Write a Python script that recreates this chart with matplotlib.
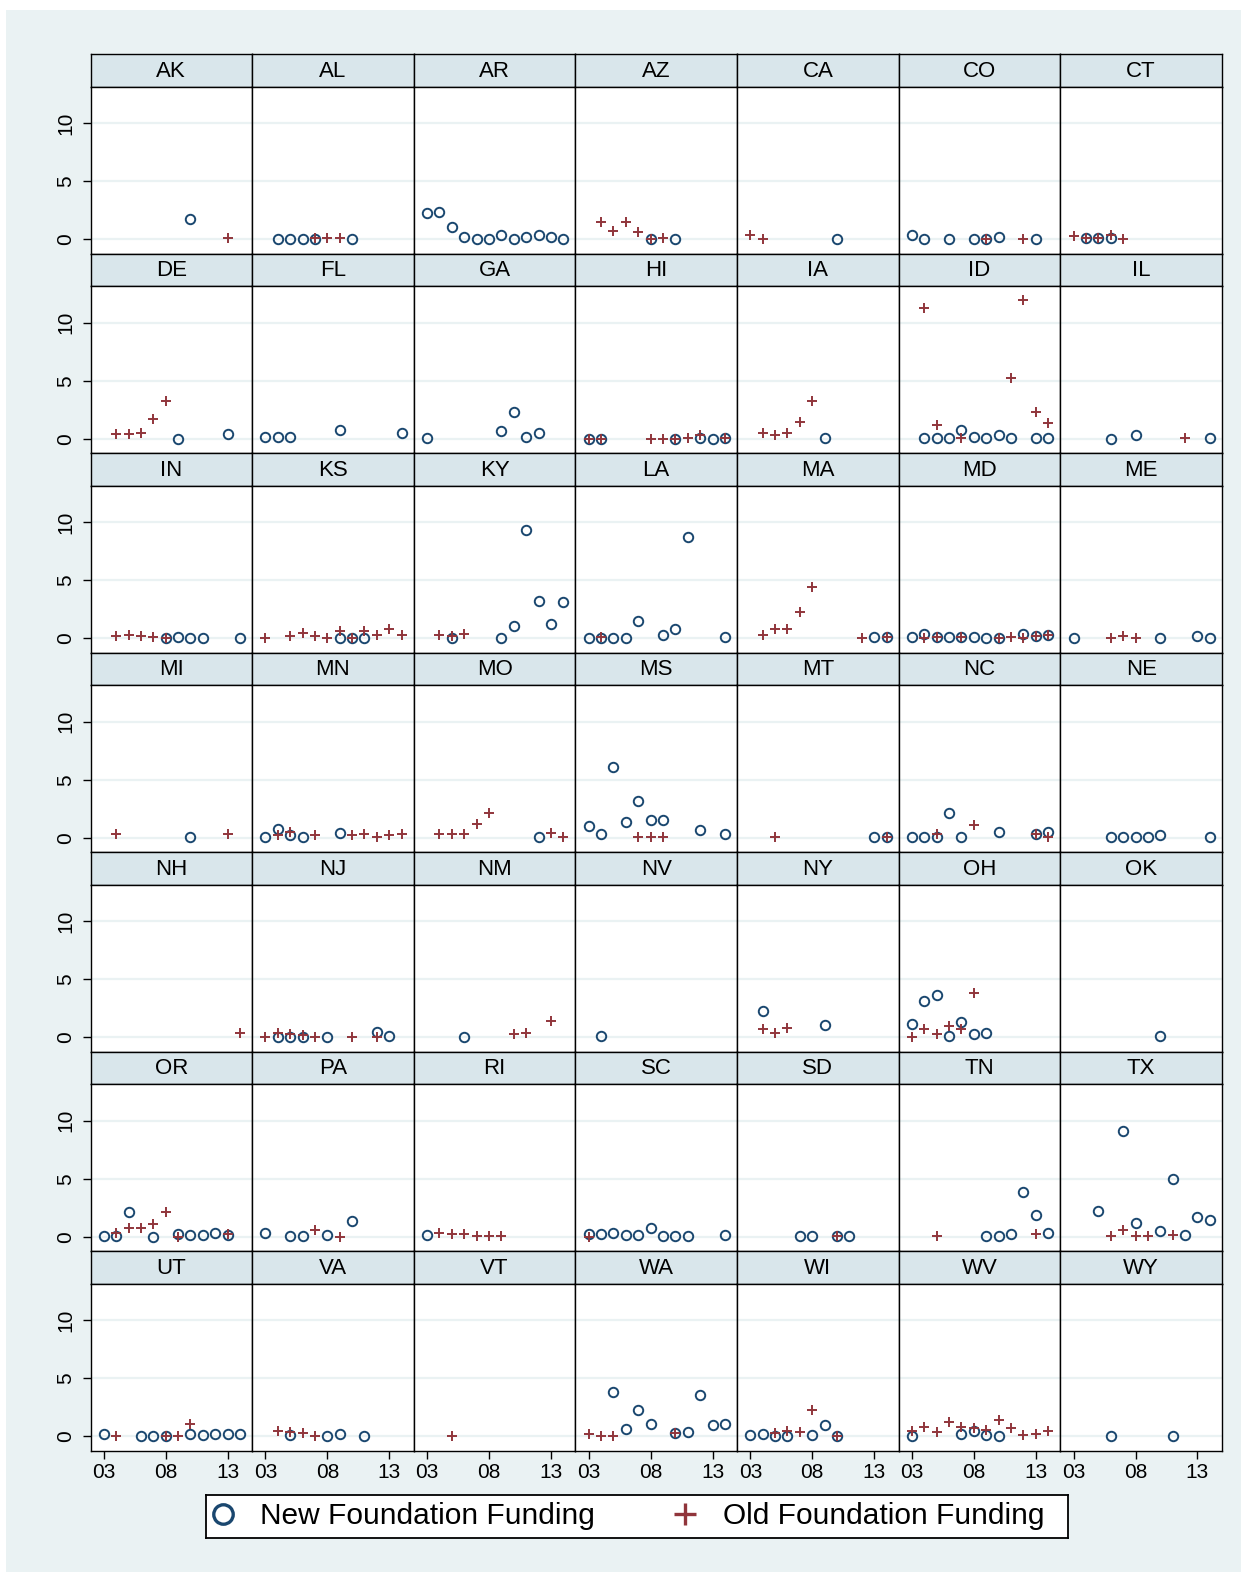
import matplotlib.pyplot as plt
from matplotlib.lines import Line2D
from matplotlib.patches import Rectangle

plt.rcParams['font.family'] = ['Liberation Sans', 'DejaVu Sans']

# year index: 3 = 2003 ... 14 = 2014
states = ["AK", "AL", "AR", "AZ", "CA", "CO", "CT",
          "DE", "FL", "GA", "HI", "IA", "ID", "IL",
          "IN", "KS", "KY", "LA", "MA", "MD", "ME",
          "MI", "MN", "MO", "MS", "MT", "NC", "NE",
          "NH", "NJ", "NM", "NV", "NY", "OH", "OK",
          "OR", "PA", "RI", "SC", "SD", "TN", "TX",
          "UT", "VA", "VT", "WA", "WI", "WV", "WY"]

new_funding = {
    "AK": {10: 1.75},
    "AL": {4: 0.0, 5: 0.0, 6: 0.0, 7: 0.0, 10: 0.0},
    "AR": {3: 2.3, 4: 2.33, 5: 1.03, 6: 0.17, 7: 0.0, 8: 0.0, 9: 0.37, 10: 0.05, 11: 0.23, 12: 0.37, 13: 0.17, 14: 0.0},
    "AZ": {8: 0.0, 10: 0.0},
    "CA": {10: 0.0},
    "CO": {3: 0.35, 4: 0.0, 6: 0.0, 8: 0.05, 9: 0.05, 10: 0.17, 13: 0.0},
    "CT": {4: 0.1, 5: 0.1, 6: 0.1},
    "DE": {9: 0.0, 13: 0.43},
    "FL": {3: 0.17, 4: 0.17, 5: 0.17, 9: 0.77, 14: 0.52},
    "GA": {3: 0.09, 9: 0.66, 10: 2.35, 11: 0.17, 12: 0.52},
    "HI": {3: 0.0, 4: 0.0, 10: 0.0, 12: 0.05, 13: 0.0, 14: 0.05},
    "IA": {9: 0.1},
    "ID": {4: 0.06, 5: 0.06, 6: 0.1, 7: 0.74, 8: 0.17, 9: 0.06, 10: 0.29, 11: 0.1, 13: 0.06, 14: 0.06},
    "IL": {6: 0.0, 8: 0.29, 14: 0.09},
    "IN": {8: 0.0, 9: 0.14, 10: 0.0, 11: 0.0, 14: 0.0},
    "KS": {9: 0.0, 10: 0.0, 11: 0.0},
    "KY": {5: 0.0, 9: 0.0, 10: 1.1, 11: 9.3, 12: 3.23, 13: 1.21, 14: 3.11},
    "LA": {3: 0.0, 4: 0.05, 5: 0.0, 6: 0.0, 7: 1.5, 9: 0.32, 10: 0.84, 11: 8.7, 14: 0.09},
    "MA": {13: 0.09, 14: 0.09},
    "MD": {3: 0.14, 4: 0.35, 5: 0.09, 6: 0.09, 7: 0.09, 8: 0.09, 9: 0.03, 10: 0.0, 12: 0.35, 13: 0.23, 14: 0.29},
    "ME": {3: 0.0, 10: 0.0, 13: 0.23, 14: 0.0},
    "MI": {10: 0.11},
    "MN": {3: 0.11, 4: 0.72, 5: 0.2, 6: 0.11, 9: 0.43},
    "MO": {12: 0.06},
    "MS": {3: 1.0, 4: 0.32, 5: 6.12, 6: 1.32, 7: 3.19, 8: 1.55, 9: 1.55, 12: 0.69, 14: 0.32},
    "MT": {13: 0.09, 14: 0.09},
    "NC": {3: 0.11, 4: 0.11, 5: 0.11, 6: 2.12, 7: 0.11, 10: 0.52, 13: 0.32, 14: 0.52},
    "NE": {6: 0.11, 7: 0.11, 8: 0.11, 9: 0.11, 10: 0.2, 14: 0.11},
    "NH": {},
    "NJ": {4: 0.03, 5: 0.03, 6: 0.03, 8: 0.03, 12: 0.46, 13: 0.14},
    "NM": {6: 0.03},
    "NV": {4: 0.14},
    "NY": {4: 2.24, 9: 1.03},
    "OH": {3: 1.12, 4: 3.1, 5: 3.68, 6: 0.11, 7: 1.35, 8: 0.29, 9: 0.34},
    "OK": {10: 0.11},
    "OR": {3: 0.06, 4: 0.06, 5: 2.1, 7: 0.0, 9: 0.23, 10: 0.14, 11: 0.14, 12: 0.32, 13: 0.14},
    "PA": {3: 0.32, 5: 0.06, 6: 0.06, 8: 0.14, 10: 1.35},
    "RI": {3: 0.14},
    "SC": {3: 0.2, 4: 0.23, 5: 0.35, 6: 0.14, 7: 0.14, 8: 0.78, 9: 0.06, 10: 0.06, 11: 0.06, 14: 0.14},
    "SD": {7: 0.03, 8: 0.03, 10: 0.03, 11: 0.03},
    "TN": {9: 0.06, 10: 0.06, 11: 0.2, 12: 3.9, 13: 1.84, 14: 0.37},
    "TX": {5: 2.24, 7: 9.14, 8: 1.15, 10: 0.52, 11: 4.94, 12: 0.14, 13: 1.72, 14: 1.44},
    "UT": {3: 0.17, 6: 0.0, 7: 0.0, 8: 0.0, 10: 0.17, 11: 0.1, 12: 0.17, 13: 0.17, 14: 0.17},
    "VA": {5: 0.1, 8: 0.0, 9: 0.17, 11: 0.0},
    "VT": {},
    "WA": {5: 3.8, 6: 0.6, 7: 2.3, 8: 1.03, 10: 0.26, 11: 0.35, 12: 3.6, 13: 0.95, 14: 1.03},
    "WI": {3: 0.1, 4: 0.17, 5: 0.03, 6: 0.03, 8: 0.1, 9: 0.95, 10: 0.0},
    "WV": {3: 0.0, 7: 0.17, 8: 0.43, 9: 0.1, 10: 0.0},
    "WY": {6: 0.0, 11: 0.0},
}

old_funding = {
    "AK": {13: 0.1},
    "AL": {7: 0.1, 8: 0.1, 9: 0.1},
    "AR": {},
    "AZ": {4: 1.5, 5: 0.7, 6: 1.45, 7: 0.65, 8: 0.05, 9: 0.1},
    "CA": {3: 0.35, 4: 0.05},
    "CO": {9: 0.0, 12: 0.0},
    "CT": {3: 0.25, 4: 0.15, 5: 0.15, 6: 0.35, 7: 0.05},
    "DE": {4: 0.43, 5: 0.43, 6: 0.54, 7: 1.7, 8: 3.3},
    "FL": {},
    "GA": {},
    "HI": {3: 0.0, 4: 0.0, 8: 0.0, 9: 0.0, 10: 0.0, 11: 0.1, 12: 0.35, 14: 0.05},
    "IA": {4: 0.46, 5: 0.37, 6: 0.52, 7: 1.46, 8: 3.3},
    "ID": {4: 11.26, 5: 1.17, 7: 0.05, 11: 5.21, 12: 11.95, 13: 2.32, 14: 1.35},
    "IL": {12: 0.06},
    "IN": {4: 0.2, 5: 0.26, 6: 0.2, 7: 0.09, 8: 0.03},
    "KS": {3: 0.03, 5: 0.2, 6: 0.43, 7: 0.2, 8: 0.03, 9: 0.6, 10: 0.03, 11: 0.6, 12: 0.26, 13: 0.84, 14: 0.32},
    "KY": {4: 0.26, 5: 0.2, 6: 0.35},
    "LA": {4: 0.15},
    "MA": {4: 0.32, 5: 0.84, 6: 0.84, 7: 2.28, 8: 4.38, 12: 0.03, 14: 0.09},
    "MD": {4: 0.0, 5: 0.09, 7: 0.09, 10: 0.03, 11: 0.09, 12: 0.0, 13: 0.23, 14: 0.29},
    "ME": {6: 0.03, 7: 0.23, 8: 0.03},
    "MI": {4: 0.37, 13: 0.37},
    "MN": {4: 0.2, 5: 0.46, 7: 0.2, 10: 0.2, 11: 0.32, 12: 0.06, 13: 0.2, 14: 0.37},
    "MO": {4: 0.32, 5: 0.32, 6: 0.32, 7: 1.15, 8: 2.18, 13: 0.4, 14: 0.03},
    "MS": {7: 0.06, 8: 0.06, 9: 0.06},
    "MT": {5: 0.09, 14: 0.09},
    "NC": {5: 0.37, 8: 1.12, 13: 0.32, 14: 0.09},
    "NE": {},
    "NH": {14: 0.37},
    "NJ": {3: 0.03, 4: 0.37, 5: 0.29, 6: 0.23, 7: 0.03, 10: 0.0, 12: 0.0},
    "NM": {10: 0.29, 11: 0.34, 13: 1.44},
    "NV": {},
    "NY": {4: 0.72, 5: 0.37, 6: 0.8},
    "OH": {3: 0.06, 4: 0.72, 5: 0.32, 6: 0.95, 7: 0.72, 8: 3.85},
    "OK": {},
    "OR": {4: 0.37, 5: 0.8, 6: 0.8, 7: 1.12, 8: 2.15, 9: 0.0, 13: 0.2},
    "PA": {7: 0.57, 9: 0.0},
    "RI": {4: 0.29, 5: 0.23, 6: 0.23, 7: 0.09, 8: 0.09, 9: 0.09},
    "SC": {3: 0.0},
    "SD": {10: 0.03},
    "TN": {5: 0.03, 13: 0.2},
    "TX": {6: 0.03, 7: 0.57, 8: 0.09, 9: 0.09, 11: 0.14},
    "UT": {4: 0.0, 8: 0.0, 9: 0.0, 10: 1.03},
    "VA": {4: 0.43, 5: 0.35, 6: 0.26, 7: 0.05},
    "VT": {5: 0.03},
    "WA": {3: 0.17, 4: 0.03, 5: 0.03, 10: 0.26},
    "WI": {5: 0.26, 6: 0.43, 7: 0.35, 8: 2.24, 10: 0.0},
    "WV": {3: 0.43, 4: 0.78, 5: 0.35, 6: 1.2, 7: 0.78, 8: 0.7, 9: 0.52, 10: 1.38, 11: 0.7, 12: 0.1, 13: 0.17, 14: 0.43},
    "WY": {},
}

x_ticks = [3, 8, 13]
x_tick_labels = ["03", "08", "13"]
y_ticks = [0, 5, 10]

navy = "#1A476F"
maroon = "#90353B"
region_bg = "#EAF2F3"
strip_bg = "#D9E6EB"

W, H = 1255, 1579
fig = plt.figure(figsize=(W / 100, H / 100), dpi=100)
fig.patch.set_facecolor("white")
bg = Rectangle((6 / W, 1 - 1572 / H), 1235 / W, 1562 / H,
               transform=fig.transFigure, facecolor=region_bg,
               edgecolor="none", zorder=-10)
fig.patches.append(bg)

left0, top0 = 90.5, 54.3
col_w, row_h, strip_h = 161.64, 199.5, 32.3
ncols = 7
nrows = 7

for i, st in enumerate(states):
    r, c = divmod(i, ncols)
    left = left0 + c * col_w
    top = top0 + r * row_h

    sax = fig.add_axes([left / W, 1 - (top + strip_h) / H, col_w / W, strip_h / H])
    sax.set_facecolor(strip_bg)
    sax.set_xticks([])
    sax.set_yticks([])
    for sp in sax.spines.values():
        sp.set_linewidth(1.0)
    sax.text(0.5, 0.47, st, ha="center", va="center", fontsize=16, transform=sax.transAxes)

    ax = fig.add_axes([left / W, 1 - (top + row_h) / H, col_w / W, (row_h - strip_h) / H])
    ax.set_facecolor("white")
    for sp in ax.spines.values():
        sp.set_linewidth(1.0)

    nf = new_funding[st]
    of = old_funding[st]
    ax.plot(list(nf.keys()), list(nf.values()), ls="none", marker="o", mfc="none",
            mec=navy, ms=6.8, mew=1.4, zorder=3)
    ax.plot(list(of.keys()), list(of.values()), ls="none", marker="+", color=maroon,
            ms=7.5, mew=1.4, zorder=4)

    ax.set_xlim(1.93, 14.98)
    ax.set_ylim(-1.25, 13.16)
    ax.set_yticks(y_ticks)
    ax.set_xticks(x_ticks)
    ax.yaxis.grid(True, color=region_bg, lw=1.6)
    ax.set_axisbelow(True)

    if c == 0:
        ax.set_yticklabels([str(v) for v in y_ticks], rotation=90, va="center", fontsize=15)
        ax.tick_params(axis="y", length=6, width=1.0, pad=5)
    else:
        ax.set_yticklabels([])
        ax.tick_params(axis="y", length=0)
    if r == nrows - 1:
        ax.set_xticklabels(x_tick_labels, fontsize=15)
        ax.tick_params(axis="x", length=6, width=1.0, pad=3)
    else:
        ax.set_xticklabels([])
        ax.tick_params(axis="x", length=0)

# legend box
lax = fig.add_axes([205.5 / W, 1 - 1538 / H, 862.1 / W, 43.3 / H])
lax.set_facecolor("white")
lax.set_xticks([])
lax.set_yticks([])
for sp in lax.spines.values():
    sp.set_linewidth(1.3)
handles = [
    Line2D([], [], ls="none", marker="o", mfc="none", mec=navy, ms=14, mew=2.4),
    Line2D([], [], ls="none", marker="+", color=maroon, ms=16, mew=2.4),
]
lax.legend(handles, ["New Foundation Funding", "Old Foundation Funding"],
           loc="center left", bbox_to_anchor=(0, 0.5), frameon=False, ncol=2,
           fontsize=21.5, borderpad=0, borderaxespad=0, handlelength=1.145,
           handletextpad=0.676, columnspacing=2.46)

fig.savefig("out.png", dpi=100)
